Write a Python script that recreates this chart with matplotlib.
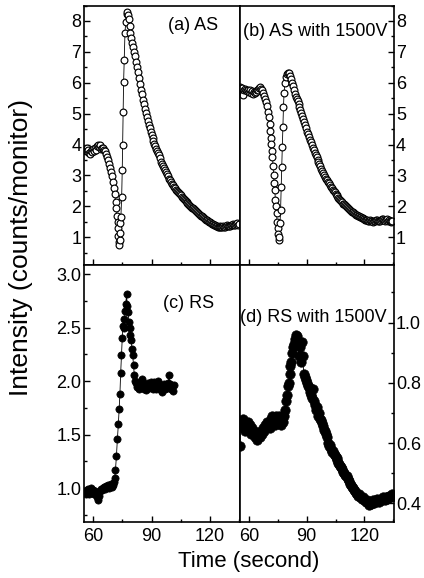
import matplotlib
matplotlib.use("Agg")
import matplotlib.pyplot as plt
from matplotlib.ticker import MultipleLocator

plt.rcParams['font.family'] = ['Liberation Sans', 'DejaVu Sans']

# ---------------- data ----------------
t_a = [55.5, 56.0, 56.5, 57.0, 57.5, 58.0, 58.5, 59.0, 59.5, 60.0, 60.5, 61.0, 61.5, 62.0, 62.5,
       63.0, 63.5, 64.0, 64.5, 65.0, 65.5, 66.0, 66.5, 67.0, 67.5, 68.0, 68.5, 69.0, 69.5, 70.0,
       70.5, 71.0, 71.5, 71.9, 72.2, 72.5, 72.7, 72.9, 73.1, 73.3, 73.5, 73.7, 73.9, 74.2, 74.6,
       74.9, 75.1, 75.3, 75.6, 75.9, 76.3, 76.7, 77.1, 77.5, 77.9, 78.3, 78.7, 79.1, 79.5, 80.0,
       80.5, 81.0, 81.5, 82.0, 82.5, 83.0, 83.5, 84.0, 84.5, 85.0, 85.5, 86.0, 86.5, 87.0, 87.5,
       88.0, 88.5, 89.0, 89.5, 90.0, 90.5, 91.0, 91.5, 92.0, 92.5, 93.0, 93.5, 94.0, 94.5, 95.0,
       95.5, 96.0, 96.5, 97.0, 97.5, 98.0, 98.5, 99.0, 99.5, 100.0, 100.5, 101.0, 101.5, 102.0,
       102.5, 103.0, 103.5, 104.0, 104.5, 105.0, 105.5, 106.0, 106.5, 107.0, 107.5, 108.0, 108.5,
       109.0, 109.5, 110.0, 110.5, 111.0, 111.5, 112.0, 112.5, 113.0, 113.5, 114.0, 114.5, 115.0,
       115.5, 116.0, 116.5, 117.0, 117.5, 118.0, 118.5, 119.0, 119.5, 120.0, 120.5, 121.0, 121.5,
       122.0, 122.5, 123.0, 123.5, 124.0, 124.5, 125.0, 125.5, 126.0, 126.5, 127.0, 127.5, 128.0,
       128.5, 129.0, 129.5, 130.0, 130.5, 131.0, 131.5, 132.0, 132.5, 133.0, 133.5, 134.0, 134.5,
       135.0]
y_a = [3.85, 3.80, 3.88, 3.78, 3.83, 3.72, 3.70, 3.80, 3.76, 3.85, 3.80, 3.90, 3.82, 3.95, 4.00,
       3.92, 3.98, 3.85, 3.90, 3.88, 3.82, 3.78, 3.70, 3.60, 3.50, 3.38, 3.25, 3.12, 2.98, 2.80,
       2.60, 2.40, 2.15, 1.95, 1.70, 1.48, 1.30, 1.05, 0.85, 0.75, 0.92, 1.15, 1.45, 1.65, 2.30,
       3.18, 4.00, 5.05, 6.02, 6.72, 7.60, 7.98, 8.22, 8.30, 8.20, 8.05, 7.85, 7.62, 7.45, 7.30,
       7.15, 7.00, 6.85, 6.68, 6.52, 6.35, 6.15, 5.95, 5.78, 5.62, 5.45, 5.30, 5.15, 5.02, 4.88,
       4.75, 4.62, 4.52, 4.40, 4.30, 4.20, 4.12, 4.02, 3.95, 3.86, 3.80, 3.72, 3.65, 3.55, 3.45,
       3.38, 3.30, 3.24, 3.16, 3.10, 3.03, 2.97, 2.90, 2.84, 2.78, 2.73, 2.68, 2.62, 2.58,
       2.53, 2.50, 2.46, 2.43, 2.39, 2.36, 2.31, 2.28, 2.24, 2.20, 2.17, 2.14, 2.10,
       2.07, 2.04, 2.01, 1.99, 1.96, 1.93, 1.90, 1.87, 1.84, 1.81, 1.78, 1.75, 1.72,
       1.70, 1.67, 1.64, 1.62, 1.59, 1.57, 1.55, 1.52, 1.50, 1.48, 1.46, 1.44, 1.42,
       1.40, 1.38, 1.37, 1.35, 1.34, 1.33, 1.35, 1.32, 1.32, 1.34, 1.36, 1.33, 1.33,
       1.36, 1.38, 1.35, 1.35, 1.37, 1.40, 1.38, 1.43, 1.40, 1.38, 1.42, 1.45, 1.41,
       1.42]

t_b = [55.5, 56.0, 56.5, 57.0, 57.5, 58.0, 58.5, 59.0, 59.5, 60.0, 60.5, 61.0, 61.5, 62.0, 62.5,
       63.0, 63.5, 64.0, 64.5, 65.0, 65.5, 66.0, 66.5, 67.0, 67.5, 68.0, 68.5, 69.0, 69.5, 70.0,
       70.4, 70.8, 71.1, 71.4, 71.7, 72.0, 72.3, 72.6, 72.9, 73.2, 73.5, 73.8, 74.1, 74.4, 74.7,
       75.0, 75.3, 75.6, 75.9, 76.2, 76.5, 76.8, 77.1, 77.4, 77.7, 78.0, 78.3, 78.8, 79.3, 79.8,
       80.3, 80.8, 81.3, 81.8, 82.3, 82.8, 83.3, 83.8, 84.3, 84.8, 85.3, 85.8, 86.3, 86.8, 87.3,
       87.8, 88.3, 88.8, 89.3, 89.8, 90.3, 90.8, 91.3, 91.8, 92.3, 92.8, 93.3, 93.8, 94.3, 94.8,
       95.3, 95.8, 96.0, 96.5, 97.0, 97.5, 98.0, 98.5, 99.0, 99.5, 100.0, 100.5, 101.0, 101.5,
       102.0, 102.5, 103.0, 103.5, 104.0, 104.5, 105.0, 105.5, 106.0, 106.5, 107.0, 107.5, 108.0,
       108.5, 109.0, 109.5, 110.0, 110.5, 111.0, 111.5, 112.0, 112.5, 113.0, 113.5, 114.0, 114.5,
       115.0, 115.5, 116.0, 116.5, 117.0, 117.5, 118.0, 118.5, 119.0, 119.5, 120.0, 120.5, 121.0,
       121.5, 122.0, 122.5, 123.0, 123.5, 124.0, 124.5, 125.0, 125.5, 126.0, 126.5, 127.0, 127.5,
       128.0, 128.5, 129.0, 129.5, 130.0, 130.5, 131.0, 131.5, 132.0, 132.5, 133.0, 133.5, 134.0,
       134.5]
y_b = [5.85, 5.80, 5.82, 5.60, 5.78, 5.80, 5.75, 5.72, 5.78, 5.70, 5.75, 5.68, 5.72, 5.65, 5.70,
       5.68, 5.72, 5.70, 5.75, 5.78, 5.82, 5.85, 5.80, 5.75, 5.68, 5.58, 5.48, 5.38, 5.25, 5.05,
       4.90, 4.65, 4.45, 4.22, 4.02, 3.80, 3.58, 3.30, 3.00, 2.75, 2.52, 2.22, 2.00, 1.78, 1.50,
       1.30, 1.10, 0.90, 1.00, 1.45, 1.88, 2.62, 3.28, 3.92, 4.58, 5.22, 5.68, 6.00, 6.18, 6.28,
       6.32, 6.30, 6.22, 6.12, 6.00, 5.88, 5.76, 5.65, 5.55, 5.48, 5.40, 5.32, 5.22, 5.12, 5.02,
       4.92, 4.82, 4.72, 4.62, 4.52, 4.42, 4.33, 4.25, 4.15, 4.08, 3.98, 3.90, 3.82, 3.74, 3.66,
       3.58, 3.50, 3.44, 3.38, 3.30, 3.22, 3.15, 3.08, 3.02, 2.96, 2.90, 2.85, 2.80, 2.74,
       2.69, 2.64, 2.59, 2.54, 2.50, 2.45, 2.40, 2.36, 2.32, 2.28, 2.24, 2.20, 2.16,
       2.13, 2.09, 2.06, 2.03, 2.00, 1.97, 1.95, 1.91, 1.88, 1.86, 1.83, 1.80, 1.78,
       1.75, 1.73, 1.72, 1.70, 1.68, 1.66, 1.64, 1.62, 1.61, 1.60, 1.58, 1.57, 1.56,
       1.55, 1.53, 1.52, 1.55, 1.54, 1.51, 1.50, 1.52, 1.53, 1.55, 1.56, 1.53, 1.52,
       1.54, 1.55, 1.58, 1.60, 1.55, 1.52, 1.56, 1.58, 1.53, 1.55, 1.52, 1.50, 1.54,
       1.53]

t_c = [55.5, 56.0, 56.5, 57.0, 57.5, 58.0, 58.5, 59.0, 59.5, 60.0, 60.5, 61.0, 61.5, 62.0, 62.5,
       63.0, 63.5, 64.0, 64.5, 65.0, 65.5, 66.0, 66.5, 67.0, 67.5, 68.0, 68.5, 69.0, 69.5, 70.0,
       70.5, 71.0, 71.4, 71.9, 72.4, 72.9, 73.3, 73.7, 74.1, 74.5, 74.9, 75.2, 75.6, 76.0, 76.3,
       76.7, 77.1, 77.5, 77.9, 78.3, 78.7, 79.1, 79.5, 79.9, 80.3, 80.7, 81.1, 81.6, 82.1, 82.6,
       83.0, 83.5, 84.0, 84.5, 85.0, 85.5, 86.0, 86.5, 87.0, 87.5, 88.0, 88.5, 89.0, 89.5, 90.0,
       90.5, 91.0, 91.5, 92.0, 92.5, 93.0, 93.5, 94.0, 94.5, 95.0, 95.5, 96.0, 96.5, 97.0, 97.5,
       98.0, 98.5, 99.0, 99.5, 100.0, 100.5, 101.0, 101.5]
y_c = [0.97, 0.95, 0.98, 0.96, 0.99, 0.95, 0.97, 1.00, 0.96, 0.98, 0.95, 0.97, 0.94, 0.92, 0.89,
       0.93, 0.97, 0.99, 0.98, 1.00, 1.01, 0.99, 1.02, 1.01, 1.03, 1.00, 1.02, 1.04, 1.01, 1.03,
       1.06, 1.10, 1.17, 1.30, 1.46, 1.60, 1.74, 1.88, 2.08, 2.24, 2.40, 2.52, 2.58, 2.50, 2.66,
       2.72, 2.81, 2.70, 2.65, 2.55, 2.50, 2.43, 2.38, 2.30, 2.24, 2.15, 2.06, 2.00, 1.98, 1.95,
       1.97, 1.93, 1.96, 2.00, 2.02, 1.95, 1.93, 1.97, 1.92, 1.96, 1.98, 1.94, 1.95, 1.99, 1.97,
       1.93, 1.96, 1.99, 1.95, 1.93, 1.97, 2.00, 1.96, 1.94, 1.92, 1.90, 1.95, 1.97, 1.93, 1.96,
       1.94, 1.98, 2.06, 1.97, 1.93, 1.95, 1.91, 1.96]

t_d = [55.5, 55.8, 56.3, 56.8, 57.3, 57.8, 58.3, 58.8, 59.3, 59.8, 60.3, 60.8, 61.3, 61.8, 62.3,
       62.8, 63.3, 63.8, 64.3, 64.8, 65.3, 65.8, 66.3, 66.8, 67.3, 67.8, 68.3, 68.8, 69.3, 69.8,
       70.3, 70.8, 71.3, 71.8, 72.3, 72.8, 73.3, 73.8, 74.3, 74.8, 75.3, 75.8, 76.3, 76.8, 77.3,
       77.8, 78.3, 78.8, 79.4, 79.9, 80.4, 80.8, 81.2, 81.6, 82.0, 82.5, 83.0, 83.5, 84.0, 84.5,
       85.0, 85.5, 86.0, 86.5, 87.0, 87.5, 88.0, 88.5, 89.0, 89.5, 90.0, 90.5, 91.0, 91.5, 92.0,
       92.5, 93.0, 93.5, 94.0, 94.5, 95.0, 95.5, 96.0, 96.5, 97.0, 97.5, 98.0, 98.5, 99.0, 99.5,
       100.0, 100.5, 101.0, 101.5, 102.0, 102.5, 103.0, 103.5, 104.0, 104.5, 105.0, 105.5, 106.0,
       106.5, 107.0, 107.5, 108.0, 108.5, 109.0, 109.5, 110.0, 110.5, 111.0, 111.5, 112.0, 112.5,
       113.0, 113.5, 114.0, 114.5, 115.0, 115.5, 116.0, 116.5, 117.0, 117.5, 118.0, 118.5, 119.0,
       119.5, 120.0, 120.5, 121.0, 121.5, 122.0, 122.5, 123.0, 123.5, 124.0, 124.5, 125.0, 125.5,
       126.0, 126.5, 127.0, 127.5, 128.0, 128.5, 129.0, 129.5, 130.0, 130.5, 131.0, 131.5, 132.0,
       132.5, 133.0, 133.5, 134.0, 134.5, 135.0]
y_d = [0.59, 0.67, 0.66, 0.68, 0.65, 0.67, 0.64, 0.66, 0.65, 0.67, 0.64, 0.66, 0.63, 0.65, 0.63,
       0.64, 0.62, 0.63, 0.61, 0.62, 0.63, 0.62, 0.64, 0.63, 0.65, 0.64, 0.66, 0.65, 0.67, 0.66,
       0.67, 0.65, 0.68, 0.66, 0.69, 0.67, 0.68, 0.66, 0.69, 0.68, 0.67, 0.69, 0.68, 0.66, 0.68,
       0.67, 0.69, 0.71, 0.74, 0.76, 0.79, 0.80, 0.83, 0.855, 0.87, 0.90, 0.92, 0.93, 0.945, 0.96,
       0.955, 0.94, 0.89, 0.92, 0.87, 0.935, 0.89, 0.83, 0.82, 0.81, 0.80, 0.79, 0.785, 0.78, 0.77,
       0.76, 0.75, 0.78, 0.74, 0.725, 0.71, 0.72, 0.69, 0.70, 0.68, 0.675, 0.665, 0.655, 0.645, 0.64,
       0.63, 0.62, 0.60, 0.59, 0.595, 0.58, 0.57, 0.575, 0.565, 0.56, 0.555, 0.55, 0.545,
       0.535, 0.53, 0.525, 0.52, 0.515, 0.505, 0.50, 0.495, 0.49, 0.49, 0.48, 0.475, 0.465,
       0.46, 0.455, 0.45, 0.445, 0.44, 0.435, 0.43, 0.425, 0.43, 0.42, 0.42, 0.415, 0.42,
       0.41, 0.415, 0.41, 0.405, 0.41, 0.40, 0.395, 0.40, 0.398, 0.405, 0.41, 0.40, 0.405,
       0.41, 0.415, 0.41, 0.405, 0.41, 0.415, 0.41, 0.42, 0.415, 0.41, 0.42, 0.415, 0.42,
       0.425, 0.42, 0.425, 0.42, 0.43, 0.425]

labels = ["(a) AS", "(b) AS with 1500V", "(c) RS", "(d) RS with 1500V"]
x_ticks = [60, 90, 120]
ylabel = "Intensity (counts/monitor)"
xlabel = "Time (second)"

# ---------------- figure ----------------
W, H = 424, 578
fig = plt.figure(figsize=(W / 100, H / 100), dpi=100)


def rect(x0, y0, x1, y1):
    return [x0 / W, 1 - y1 / H, (x1 - x0) / W, (y1 - y0) / H]


ax_a = fig.add_axes(rect(84, 5.5, 239.5, 265))
ax_b = fig.add_axes(rect(239.5, 5.5, 394, 265))
ax_c = fig.add_axes(rect(84, 265, 239.5, 522))
ax_d = fig.add_axes(rect(239.5, 265, 394, 522))

open_kw = dict(marker='o', ms=4.9, mfc='white', mec='black', mew=0.85,
               color='black', lw=0.6)
ax_a.plot(t_a, y_a, **open_kw)
ax_b.plot(t_b, y_b, **open_kw)
ax_c.plot(t_c, y_c, marker='o', ms=5.2, mfc='black', mec='black', mew=0.5,
          color='black', lw=0.6)
ax_d.plot(t_d, y_d, marker='o', ms=6.8, mfc='black', mec='black', mew=0.5,
          color='black', lw=0.6)

for ax in (ax_a, ax_b, ax_c, ax_d):
    ax.set_xlim(55.2, 135.3)
    ax.set_xticks(x_ticks)
    ax.xaxis.set_minor_locator(MultipleLocator(15))
    for s in ax.spines.values():
        s.set_linewidth(1.2)
    ax.tick_params(which='both', direction='in', labelsize=13, width=1.0)
    ax.tick_params(which='major', length=4)
    ax.tick_params(which='minor', length=2.5)
    ax.tick_params(axis='x', pad=4)

for ax in (ax_a, ax_b):
    ax.set_ylim(0.1, 8.5)
    ax.set_yticks([1, 2, 3, 4, 5, 6, 7, 8])
    ax.yaxis.set_minor_locator(MultipleLocator(0.5))
    ax.tick_params(axis='x', labelbottom=False)

ax_c.set_ylim(0.685, 3.085)
ax_c.set_yticks([1.0, 1.5, 2.0, 2.5, 3.0])
ax_c.set_yticklabels(["1.0", "1.5", "2.0", "2.5", "3.0"])
ax_c.yaxis.set_minor_locator(MultipleLocator(0.25))

ax_d.set_ylim(0.338, 1.191)
ax_d.set_yticks([0.4, 0.6, 0.8, 1.0])
ax_d.set_yticklabels(["0.4", "0.6", "0.8", "1.0"])
ax_d.yaxis.set_minor_locator(MultipleLocator(0.1))

for ax in (ax_a, ax_c):
    ax.tick_params(axis='y', which='both', left=True, right=False, labelleft=True, pad=2)
for ax in (ax_b, ax_d):
    ax.tick_params(axis='y', which='both', left=False, right=True,
                   labelleft=False, labelright=True, pad=1.5)


def ftext(x, y, s, **kw):
    fig.text(x / W, 1 - y / H, s, **kw)


ftext(168, 25, labels[0], fontsize=13, ha='left', va='center')
ftext(243, 32, labels[1], fontsize=13, ha='left', va='center')
ftext(163, 303, labels[2], fontsize=13, ha='left', va='center')
ftext(240, 317, labels[3], fontsize=13, ha='left', va='center')

ftext(21, 248, ylabel, fontsize=19, rotation=90, ha='center', va='center')
ftext(249, 562, xlabel, fontsize=16, ha='center', va='center')

fig.savefig("out.png", dpi=100)
